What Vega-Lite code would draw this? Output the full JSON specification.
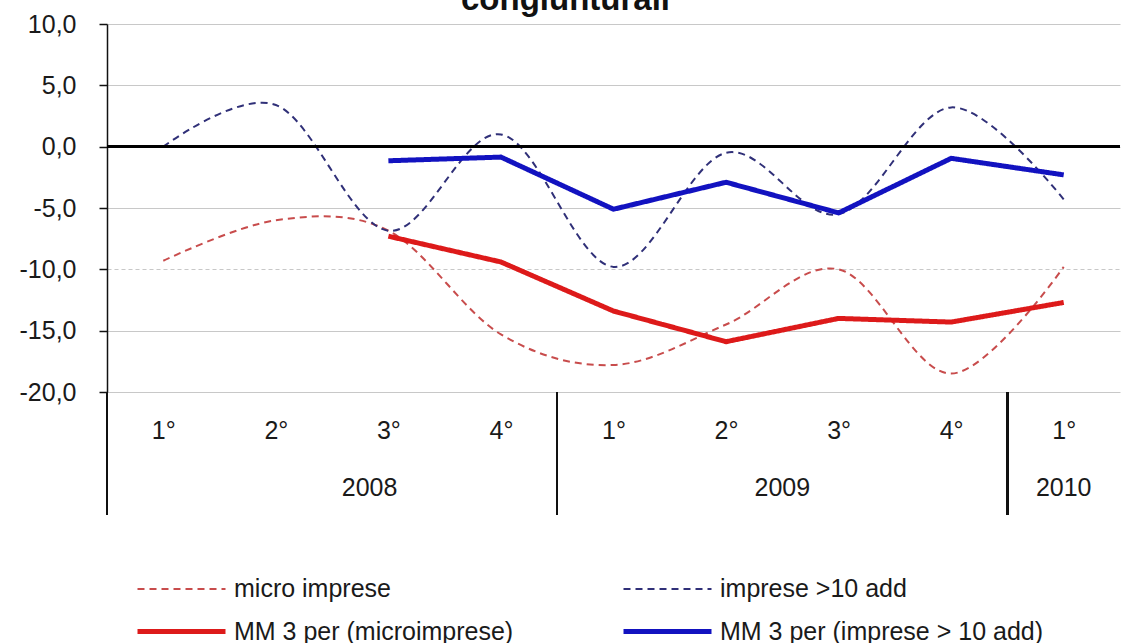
{
  "$schema": "https://vega.github.io/schema/vega-lite/v6.json",
  "width": 1013,
  "height": 368,
  "autosize": {"type": "none"},
  "padding": {"left": 107, "top": 24, "right": 2, "bottom": 251},
  "background": "white",
  "title": {"text": "congiunturali", "font": "Liberation Sans", "fontSize": 33, "fontWeight": "bold", "color": "#111111", "anchor": "middle", "baseline": "alphabetic", "offset": 0, "dx": -48, "dy": 31},
  "config": {
    "view": {"stroke": null},
    "font": "Liberation Sans",
    "legend": {"labelLimit": 0}
  },
  "data": {"values": [
    {"q": 1, "year": "2008", "series": "micro imprese", "value": -9.3},
    {"q": 2, "year": "2008", "series": "micro imprese", "value": -6.0},
    {"q": 3, "year": "2008", "series": "micro imprese", "value": -6.85},
    {"q": 4, "year": "2008", "series": "micro imprese", "value": -15.3},
    {"q": 5, "year": "2009", "series": "micro imprese", "value": -17.8},
    {"q": 6, "year": "2009", "series": "micro imprese", "value": -14.5},
    {"q": 7, "year": "2009", "series": "micro imprese", "value": -10.0},
    {"q": 8, "year": "2009", "series": "micro imprese", "value": -18.5},
    {"q": 9, "year": "2010", "series": "micro imprese", "value": -9.8},
    {"q": 1, "year": "2008", "series": "imprese >10 add", "value": 0.0},
    {"q": 2, "year": "2008", "series": "imprese >10 add", "value": 3.4},
    {"q": 3, "year": "2008", "series": "imprese >10 add", "value": -6.85},
    {"q": 4, "year": "2008", "series": "imprese >10 add", "value": 1.0},
    {"q": 5, "year": "2009", "series": "imprese >10 add", "value": -9.8},
    {"q": 6, "year": "2009", "series": "imprese >10 add", "value": -0.5},
    {"q": 7, "year": "2009", "series": "imprese >10 add", "value": -5.5},
    {"q": 8, "year": "2009", "series": "imprese >10 add", "value": 3.2},
    {"q": 9, "year": "2010", "series": "imprese >10 add", "value": -4.3},
    {"q": 3, "year": "2008", "series": "MM 3 per (microimprese)", "value": -7.3},
    {"q": 4, "year": "2008", "series": "MM 3 per (microimprese)", "value": -9.4},
    {"q": 5, "year": "2009", "series": "MM 3 per (microimprese)", "value": -13.4},
    {"q": 6, "year": "2009", "series": "MM 3 per (microimprese)", "value": -15.9},
    {"q": 7, "year": "2009", "series": "MM 3 per (microimprese)", "value": -14.0},
    {"q": 8, "year": "2009", "series": "MM 3 per (microimprese)", "value": -14.3},
    {"q": 9, "year": "2010", "series": "MM 3 per (microimprese)", "value": -12.7},
    {"q": 3, "year": "2008", "series": "MM 3 per (imprese > 10 add)", "value": -1.15},
    {"q": 4, "year": "2008", "series": "MM 3 per (imprese > 10 add)", "value": -0.85},
    {"q": 5, "year": "2009", "series": "MM 3 per (imprese > 10 add)", "value": -5.1},
    {"q": 6, "year": "2009", "series": "MM 3 per (imprese > 10 add)", "value": -2.9},
    {"q": 7, "year": "2009", "series": "MM 3 per (imprese > 10 add)", "value": -5.4},
    {"q": 8, "year": "2009", "series": "MM 3 per (imprese > 10 add)", "value": -0.95},
    {"q": 9, "year": "2010", "series": "MM 3 per (imprese > 10 add)", "value": -2.3}
  ]},
  "layer": [
    {
      "transform": [{"filter": "indexof(datum.series, 'MM') < 0"}],
      "mark": {"type": "line", "interpolate": "cardinal", "clip": false},
      "encoding": {
        "x": {"field": "q", "type": "quantitative", "title": null,
          "scale": {"domain": [0.5, 9.5], "nice": false, "zero": false},
          "axis": {"values": [1, 2, 3, 4, 5, 6, 7, 8, 9], "labelExpr": "((datum.value - 1) % 4 + 1) + '°'", "domain": false, "ticks": false, "grid": false, "labelFont": "Liberation Sans", "labelFontSize": 25, "labelColor": "#1a1a1a", "labelPadding": 38, "labelBaseline": "middle"}},
        "y": {"field": "value", "type": "quantitative", "title": null,
          "scale": {"domain": [-20, 10], "nice": false, "zero": false},
          "axis": {"values": [-20, -15, -10, -5, 0, 5, 10], "labelExpr": "replace(replace(format(datum.value, '.1f'), '.', ','), '\u2212', '-')", "grid": true, "gridColor": "#c8c8c8", "gridWidth": 1.2, "gridDash": {"condition": {"test": "datum.value === -10", "value": [4, 3]}, "value": []}, "domainColor": "#111111", "domainWidth": 1.5, "tickColor": "#111111", "tickSize": 8, "tickWidth": 1.5, "labelFont": "Liberation Sans", "labelFontSize": 25, "labelColor": "#1a1a1a", "labelPadding": 23}},
        "color": {"field": "series", "type": "nominal", "title": null,
          "scale": {"domain": ["micro imprese", "imprese >10 add", "MM 3 per (microimprese)", "MM 3 per (imprese > 10 add)"], "range": ["#c84c4c", "#303078", "#dd1a1a", "#1212c0"]},
          "legend": {"orient": "none", "legendX": 50, "legendY": 542, "columns": 2, "direction": "horizontal", "symbolType": "M-2,0H2", "symbolSize": 1936, "labelFont": "Liberation Sans", "labelFontSize": 25, "labelColor": "#1a1a1a", "labelOffset": 28, "columnPadding": 99, "rowPadding": 5, "labelLimit": 0, "title": null}},
        "strokeDash": {"field": "series", "type": "nominal", "title": null,
          "scale": {"domain": ["micro imprese", "imprese >10 add", "MM 3 per (microimprese)", "MM 3 per (imprese > 10 add)"], "range": [[7, 5], [7, 5], [1, 0], [1, 0]]}},
        "strokeWidth": {"field": "series", "type": "nominal", "title": null,
          "scale": {"type": "ordinal", "domain": ["micro imprese", "imprese >10 add", "MM 3 per (microimprese)", "MM 3 per (imprese > 10 add)"], "range": [2, 2, 5, 5]}}
      }
    },
    {
      "mark": {"type": "rule", "color": "#000000", "strokeWidth": 2},
      "encoding": {"y": {"datum": 0}}
    },
    {
      "transform": [{"filter": "indexof(datum.series, 'MM') >= 0"}],
      "mark": {"type": "line", "interpolate": "linear", "clip": false},
      "encoding": {
        "x": {"field": "q", "type": "quantitative", "title": null},
        "y": {"field": "value", "type": "quantitative", "title": null},
        "color": {"field": "series", "type": "nominal", "title": null,
          "scale": {"domain": ["micro imprese", "imprese >10 add", "MM 3 per (microimprese)", "MM 3 per (imprese > 10 add)"], "range": ["#c84c4c", "#303078", "#dd1a1a", "#1212c0"]}},
        "strokeDash": {"field": "series", "type": "nominal", "title": null,
          "scale": {"domain": ["micro imprese", "imprese >10 add", "MM 3 per (microimprese)", "MM 3 per (imprese > 10 add)"], "range": [[7, 5], [7, 5], [1, 0], [1, 0]]}},
        "strokeWidth": {"field": "series", "type": "nominal", "title": null,
          "scale": {"type": "ordinal", "domain": ["micro imprese", "imprese >10 add", "MM 3 per (microimprese)", "MM 3 per (imprese > 10 add)"], "range": [2, 2, 5, 5]}}
      }
    },
    {
      "mark": {"type": "rule", "color": "#111111", "strokeWidth": 1.5, "clip": false},
      "encoding": {"x": {"datum": 0.5}, "y": {"datum": -20}, "y2": {"datum": -30}}
    },
    {
      "mark": {"type": "rule", "color": "#111111", "strokeWidth": 1.5, "clip": false},
      "encoding": {"x": {"datum": 4.5}, "y": {"datum": -20}, "y2": {"datum": -30}}
    },
    {
      "mark": {"type": "rule", "color": "#111111", "strokeWidth": 1.5, "clip": false},
      "encoding": {"x": {"datum": 8.5}, "y": {"datum": -20}, "y2": {"datum": -30}}
    },
    {
      "mark": {"type": "text", "font": "Liberation Sans", "fontSize": 25, "color": "#1a1a1a", "baseline": "middle", "align": "center", "clip": false},
      "encoding": {
        "x": {"aggregate": "mean", "field": "q", "type": "quantitative", "title": null},
        "y": {"datum": -27.8},
        "text": {"field": "year", "type": "nominal"}
      }
    }
  ]
}
